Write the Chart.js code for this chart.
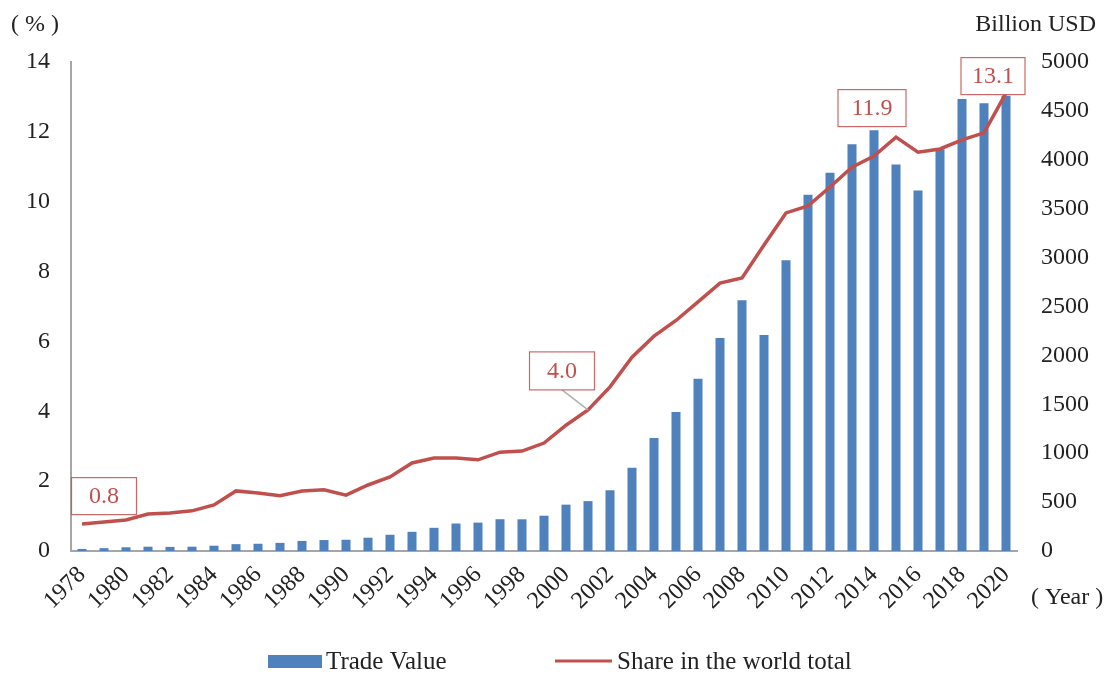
<!DOCTYPE html>
<html>
<head>
<meta charset="utf-8">
<script src="https://cdn.jsdelivr.net/npm/chart.js@4"></script>
<style>
  html, body { margin: 0; padding: 0; background: #fff; }
  canvas { display: block; }
</style>
</head>
<body>
<canvas id="chart" width="1111" height="675"></canvas>
<script>
const years = ['1978','1979','1980','1981','1982','1983','1984','1985','1986','1987','1988','1989','1990',
  '1991','1992','1993','1994','1995','1996','1997','1998','1999','2000','2001','2002','2003','2004','2005',
  '2006','2007','2008','2009','2010','2011','2012','2013','2014','2015','2016','2017','2018','2019','2020'];

// Billion USD
const tradeValue = [21, 29, 38, 44, 42, 44, 54, 70, 74, 83, 103, 112, 115,
  136, 166, 196, 237, 281, 290, 325, 324, 361, 474, 510, 621, 851, 1155, 1422,
  1760, 2177, 2563, 2208, 2974, 3642, 3867, 4159, 4302, 3953, 3686, 4107, 4622, 4578, 4656];

// %
const worldShare = [0.77, 0.83, 0.89, 1.06, 1.09, 1.15, 1.32, 1.72, 1.66, 1.58, 1.72, 1.75, 1.60,
  1.89, 2.12, 2.52, 2.66, 2.66, 2.61, 2.83, 2.86, 3.09, 3.60, 4.04, 4.70, 5.55, 6.15, 6.60,
  7.13, 7.67, 7.82, 8.76, 9.68, 9.88, 10.42, 10.99, 11.31, 11.85, 11.42, 11.51, 11.77, 11.97, 13.11];

const leftTicks = [0, 2, 4, 6, 8, 10, 12, 14];
const rightTicks = [0, 500, 1000, 1500, 2000, 2500, 3000, 3500, 4000, 4500, 5000];

const calloutYears = ['1978', '2001', '2015', '2020'];
const calloutText = ['0.8', '4.0', '11.9', '13.1'];

const BLUE = '#4f81bd';
const RED = '#c0504d';
const AXIS = '#a6a6a6';
const INK = '#222';
const FONT = '"Liberation Serif", "Times New Roman", serif';

// box offsets from the data point (px), box size, leader line flag
const calloutStyle = [
  { dx: 22, dy: -28, w: 65, h: 37, leader: false },
  { dx: -26, dy: -39, w: 65, h: 38, leader: true },
  { dx: -24, dy: -29, w: 68, h: 37, leader: false },
  { dx: -13, dy: -17, w: 64, h: 37, leader: false }
];

const extras = {
  id: 'extras',
  afterDatasetsDraw(chart) {
    const ctx = chart.ctx;
    const x = chart.scales.x, y = chart.scales.y;

    // callouts
    calloutYears.forEach((yr, k) => {
      const i = years.indexOf(yr);
      const px = x.getPixelForValue(i);
      const py = y.getPixelForValue(worldShare[i]);
      const s = calloutStyle[k];
      const cx = px + s.dx, cy = py + s.dy;
      ctx.save();
      if (s.leader) {
        ctx.strokeStyle = '#b0b0b0';
        ctx.lineWidth = 1.5;
        ctx.beginPath();
        ctx.moveTo(cx, cy + s.h / 2);
        ctx.lineTo(px, py);
        ctx.stroke();
      }
      ctx.fillStyle = '#fff';
      ctx.fillRect(cx - s.w / 2, cy - s.h / 2, s.w, s.h);
      ctx.strokeStyle = 'rgba(192,80,77,0.85)';
      ctx.lineWidth = 1.2;
      ctx.strokeRect(cx - s.w / 2, cy - s.h / 2, s.w, s.h);
      ctx.fillStyle = RED;
      ctx.font = '24px ' + FONT;
      ctx.textAlign = 'center';
      ctx.textBaseline = 'middle';
      ctx.fillText(calloutText[k], cx, cy + 1);
      ctx.restore();
    });
  },
  afterDraw(chart) {
    const ctx = chart.ctx;
    ctx.save();
    ctx.fillStyle = INK;
    ctx.font = '24px ' + FONT;
    ctx.textBaseline = 'middle';
    ctx.textAlign = 'left';
    ctx.fillText('( % )', 11, 25);
    ctx.fillText('( Year )', 1031, 598);
    ctx.textAlign = 'right';
    ctx.fillText('Billion USD', 1096, 25);

    // legend
    ctx.font = '25px ' + FONT;
    ctx.textAlign = 'left';
    ctx.fillStyle = BLUE;
    ctx.fillRect(268, 655, 54, 13);
    ctx.fillStyle = INK;
    ctx.fillText('Trade Value', 326, 662);
    ctx.strokeStyle = RED;
    ctx.lineWidth = 3;
    ctx.beginPath();
    ctx.moveTo(555, 661);
    ctx.lineTo(612, 661);
    ctx.stroke();
    ctx.fillText('Share in the world total', 617, 662);
    ctx.restore();
  }
};

new Chart(document.getElementById('chart').getContext('2d'), {
  data: {
    labels: years,
    datasets: [
      {
        type: 'line',
        label: 'Share in the world total',
        data: worldShare,
        yAxisID: 'y',
        borderColor: RED,
        borderWidth: 3.5,
        pointRadius: 0,
        tension: 0,
        order: 0
      },
      {
        type: 'bar',
        label: 'Trade Value',
        data: tradeValue,
        yAxisID: 'y1',
        backgroundColor: BLUE,
        categoryPercentage: 1,
        barPercentage: 0.41,
        order: 1
      }
    ]
  },
  options: {
    responsive: false,
    animation: false,
    devicePixelRatio: 1,
    layout: { padding: { top: 62, left: 0, right: 0, bottom: 0 } },
    plugins: {
      legend: { display: false },
      tooltip: { enabled: false }
    },
    scales: {
      x: {
        grid: { display: false, drawTicks: false },
        border: { color: AXIS, width: 2 },
        ticks: {
          autoSkip: false,
          maxRotation: 45,
          minRotation: 45,
          padding: 10,
          color: INK,
          font: { family: FONT, size: 24 },
          callback: (v, i) => (i % 2 === 0 ? years[i] : '')
        },
        afterFit: (s) => { s.height = 124; }
      },
      y: {
        position: 'left',
        min: 0,
        max: 14,
        grid: { display: false, drawTicks: false },
        border: { color: AXIS, width: 2 },
        afterBuildTicks: (s) => { s.ticks = leftTicks.map(v => ({ value: v })); },
        ticks: {
          padding: 21,
          color: INK,
          font: { family: FONT, size: 24 }
        },
        afterFit: (s) => { s.width = 71; }
      },
      y1: {
        position: 'right',
        min: 0,
        max: 5000,
        grid: { display: false, drawTicks: false },
        border: { display: false },
        afterBuildTicks: (s) => { s.ticks = rightTicks.map(v => ({ value: v })); },
        ticks: {
          padding: 24,
          color: INK,
          font: { family: FONT, size: 24 },
          callback: (v) => String(v)
        },
        afterFit: (s) => { s.width = 94; }
      }
    }
  },
  plugins: [extras]
});
</script>
</body>
</html>
